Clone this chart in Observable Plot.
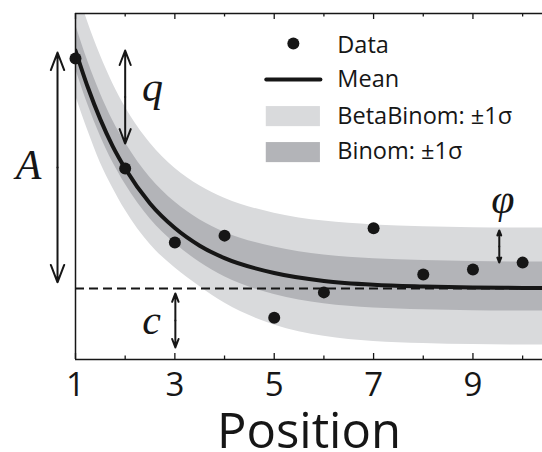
<!DOCTYPE html>
<html><head><meta charset="utf-8">
<script src="https://cdn.jsdelivr.net/npm/d3@7"></script>
<script src="https://cdn.jsdelivr.net/npm/@observablehq/plot@0.6"></script>
<style>
html,body{margin:0;padding:0;background:#fff;}
#chart svg{display:block;}
</style></head><body><div id="chart"></div>
<script>
// ---- data ----
const positions = [1, 2, 3, 4, 5, 6, 7, 8, 9, 10];
const dataValues = [87.0, 55.2, 33.8, 35.8, 12.1, 19.4, 37.9, 24.6, 26.0, 28.0];
const curveX = [1, 1.25, 1.5, 1.75, 2, 2.5, 3, 3.5, 4, 5, 6, 7, 8, 9, 10, 10.4];
const meanValues = [89.3, 78.6, 69.4, 61.6, 55.2, 45.1, 38.0, 32.9, 29.3, 25.0, 22.7, 21.6, 21.1, 20.8, 20.7, 20.7];
const binomHi = [96.8, 86.1, 76.9, 69.1, 62.7, 52.6, 45.5, 40.4, 36.8, 32.5, 30.2, 29.1, 28.6, 28.3, 28.2, 28.2];
const binomLo = [84.1, 73.6, 64.6, 57.0, 50.7, 40.7, 33.6, 28.1, 23.9, 18.8, 16.1, 14.9, 14.4, 14.1, 14.0, 14.0];
const betaHi = [108.3, 97.4, 87.9, 79.8, 73.0, 62.6, 55.3, 50.2, 46.6, 42.3, 40.0, 38.9, 38.4, 38.1, 38.0, 38.0];
const betaLo = [76.3, 66.1, 56.9, 49.6, 43.2, 33.3, 26.5, 21.1, 16.3, 10.0, 6.7, 5.2, 4.6, 4.3, 4.2, 4.2];
const cValue = 20.5;
const majorTicks = [1, 3, 5, 7, 9];
const minorTicks = [2, 4, 6, 8, 10];
const xLabel = "Position";
const legendLabels = ["Data", "Mean", "BetaBinom: \u00b11\u03c3", "Binom: \u00b11\u03c3"];
const paramLabels = ["A", "q", "c", "\u03c6"];
// double-arrow spans [x, yLow, yHigh]
const spanA = [0.638, 22.3, 88.7];
const spanQ = [2.0, 62.4, 89.3];
const spanC = [3.01, 3.5, 19.1];
const spanPhi = [9.53, 28.0, 37.3];

// ---- layout / styles ----
const W = 542, H = 452;
const mL = 75, mR = 0, mT = 13, mB = 93;
const xDom = [1, 10.4], yDom = [0, 100];
const pxY = (H - mT - mB) / (yDom[1] - yDom[0]);
const lightGray = "#d9dadc", darkGray = "#b3b4b8", ink = "#161616";
const sansFont = "'Open Sans', Lato, sans-serif";
const serifFont = "'Liberation Serif', 'DejaVu Serif', serif";

const bands = curveX.map((x, i) => ({x, mean: meanValues[i], bLo: binomLo[i], bHi: binomHi[i], eLo: betaLo[i], eHi: betaHi[i]}));
const pts = positions.map((x, i) => ({x, y: dataValues[i]}));

const arrows = [];
for (const [x, lo, hi] of [spanA, spanQ, spanC, spanPhi]) {
  const mid = (lo + hi) / 2;
  arrows.push({x1: x, y1: mid, x2: x, y2: hi});
  arrows.push({x1: x, y1: mid, x2: x, y2: lo});
}

const params = [
  {t: paramLabels[0], x: 0.054, y: 56.2},
  {t: paramLabels[1], x: 2.55, y: 78.7},
  {t: paramLabels[2], x: 2.53, y: 11.2},
  {t: paramLabels[3], x: 9.6, y: 46.1}
];

const lgX0 = 4.84, lgX1 = 5.93, lgTx = 6.27;
const lgText = [
  {t: legendLabels[0], y: 90.75},
  {t: legendLabels[1], y: 80.9},
  {t: legendLabels[2], y: 70.2},
  {t: legendLabels[3], y: 60.1}
];

const tickLen = (px) => px / pxY;

const chart = Plot.plot({
  width: W, height: H,
  marginLeft: mL, marginRight: mR, marginTop: mT, marginBottom: mB,
  x: {domain: xDom, axis: null},
  y: {domain: yDom, axis: null},
  style: {background: "#fff", fontFamily: sansFont},
  marks: [
    Plot.areaY(bands, {x: "x", y1: "eLo", y2: "eHi", fill: lightGray, curve: "monotone-x", clip: true}),
    Plot.areaY(bands, {x: "x", y1: "bLo", y2: "bHi", fill: darkGray, curve: "monotone-x", clip: true}),
    Plot.ruleY([cValue], {stroke: ink, strokeWidth: 2, strokeDasharray: "9,5"}),
    Plot.line(bands, {x: "x", y: "mean", stroke: ink, strokeWidth: 4, curve: "monotone-x", clip: true}),
    Plot.dot(pts, {x: "x", y: "y", r: 6, fill: ink, stroke: "none"}),
    // frame
    Plot.ruleY([yDom[0], yDom[1]], {stroke: ink, strokeWidth: 1.5}),
    Plot.ruleX([xDom[0]], {stroke: ink, strokeWidth: 1.5}),
    // inward ticks
    Plot.ruleX(majorTicks, {y1: yDom[0], y2: yDom[0] + tickLen(6), stroke: ink, strokeWidth: 1.3}),
    Plot.ruleX(minorTicks, {y1: yDom[0], y2: yDom[0] + tickLen(3.5), stroke: ink, strokeWidth: 1.3}),
    Plot.ruleX(majorTicks, {y1: yDom[1], y2: yDom[1] - tickLen(6), stroke: ink, strokeWidth: 1.3}),
    Plot.ruleX(minorTicks, {y1: yDom[1], y2: yDom[1] - tickLen(3.5), stroke: ink, strokeWidth: 1.3}),
    Plot.axisX(majorTicks, {anchor: "bottom", tickSize: 0, tickPadding: 13, fontSize: 33, fill: ink, label: null, tickFormat: d => String(d)}),
    Plot.text([xLabel], {frameAnchor: "bottom", dy: 73, fontSize: 49, fill: ink, lineAnchor: "middle"}),
    // annotations
    Plot.arrow(arrows, {x1: "x1", y1: "y1", x2: "x2", y2: "y2", stroke: ink, strokeWidth: 2, headLength: 14, headAngle: 42, bend: 0}),
    Plot.text(params, {x: "x", y: "y", text: "t", fontSize: 42, fontStyle: "italic", fontFamily: serifFont, fill: ink, lineAnchor: "middle"}),
    // legend
    Plot.dot([{x: (lgX0 + lgX1) / 2, y: 91.3}], {x: "x", y: "y", r: 6, fill: ink}),
    Plot.line([{x: lgX0, y: 80.9}, {x: lgX1, y: 80.9}], {x: "x", y: "y", stroke: ink, strokeWidth: 4}),
    Plot.rect([{x1: lgX0, x2: lgX1, y1: 67.3, y2: 73.1}], {x1: "x1", x2: "x2", y1: "y1", y2: "y2", fill: lightGray}),
    Plot.rect([{x1: lgX0, x2: lgX1, y1: 56.9, y2: 62.7}], {x1: "x1", x2: "x2", y1: "y1", y2: "y2", fill: darkGray}),
    Plot.text(lgText, {x: lgTx, y: "y", text: "t", textAnchor: "start", fontSize: 23.5, fill: ink, lineAnchor: "middle"})
  ]
});
document.getElementById("chart").append(chart);
</script></body></html>
